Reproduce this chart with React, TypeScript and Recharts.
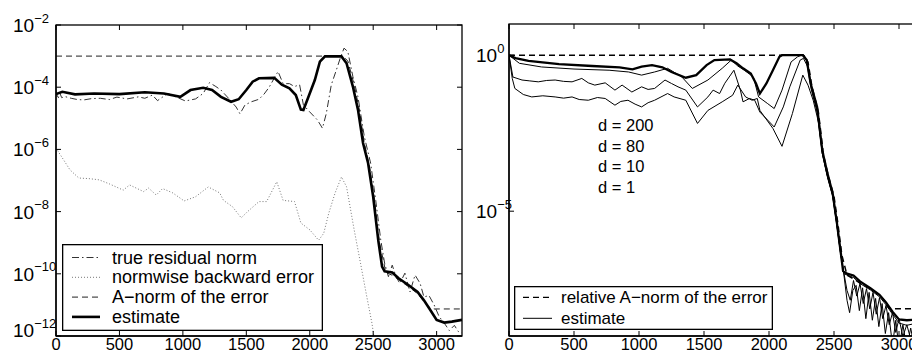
import React from 'react';
import { LineChart, Line, XAxis, YAxis, Legend, Customized } from 'recharts';

type Pt = [number, number];

const FONT = '"Liberation Sans", Arial, Helvetica, sans-serif';

// ---------- shared axis values ----------
const iterTicks = [0, 500, 1000, 1500, 2000, 2500, 3000];
const iterDomain: [number, number] = [0, 3200];
const leftTicks = [1e-12, 1e-10, 1e-8, 1e-6, 1e-4, 1e-2];
const leftDomain: [number, number] = [1e-12, 1e-2];
const rightTicks = [1e-5, 1];
const rightDomain: [number, number] = [1e-9, 10];

// ---------- left panel series ----------
const trueResidual: Pt[] = [
  [0, 8.1e-5], [15, 4.2e-5], [30, 6.5e-5], [45, 4.6e-5], [70, 5.0e-5], [120, 4.4e-5],
  [170, 4.0e-5], [220, 3.9e-5], [280, 4.3e-5], [350, 4.4e-5], [420, 4.0e-5], [480, 4.8e-5],
  [560, 4.2e-5], [650, 4.9e-5], [700, 4.4e-5], [760, 5.6e-5], [800, 3.7e-5], [880, 6.3e-5],
  [950, 4.8e-5], [1020, 3.6e-5], [1100, 4.2e-5], [1160, 6.3e-5], [1210, 1.4e-4], [1260, 1.05e-4],
  [1300, 8.1e-5], [1360, 4.4e-5], [1420, 2.3e-5], [1450, 1.4e-5], [1490, 2.7e-5], [1540, 3.4e-5],
  [1600, 4.1e-5], [1640, 6.0e-5], [1680, 1.0e-4], [1750, 3.2e-4], [1790, 1.3e-4], [1840, 1.3e-4],
  [1880, 1.05e-4], [1920, 1.2e-4], [1950, 2.7e-5], [2000, 1.6e-5], [2060, 8.9e-6], [2100, 4.8e-6],
  [2130, 1.4e-5], [2170, 1.2e-4], [2210, 3.6e-4], [2240, 8.5e-4], [2270, 1.8e-3], [2300, 1.4e-3],
  [2340, 2.2e-4], [2380, 4.9e-5], [2430, 2.6e-6], [2480, 3.6e-7], [2520, 2.3e-8], [2560, 1.2e-9],
  [2590, 2.2e-10], [2620, 8.1e-11], [2650, 1.9e-10], [2680, 8.1e-11], [2710, 4.9e-11], [2750, 1.05e-10],
  [2790, 2.6e-11], [2830, 9.1e-11], [2870, 4.9e-11], [2900, 1.8e-11], [2940, 2.0e-11], [2980, 1.0e-11],
  [3020, 4.2e-12], [3060, 2.6e-12], [3100, 1.5e-12], [3140, 2.2e-12], [3170, 1.4e-12], [3200, 1.25e-12],
];

const backwardError: Pt[] = [
  [0, 1.1e-6], [60, 4.6e-7], [110, 2.2e-7], [180, 1.2e-7], [260, 1.15e-7], [340, 1.05e-7],
  [420, 7.8e-8], [530, 4.9e-8], [580, 7.2e-8], [690, 4.4e-8], [730, 5.7e-8], [790, 3.4e-8],
  [840, 5.5e-8], [920, 4.0e-8], [1010, 2.2e-8], [1100, 3.0e-8], [1200, 6.2e-8], [1290, 4.0e-8],
  [1320, 2.3e-8], [1390, 1.45e-8], [1460, 6.3e-9], [1510, 1.0e-8], [1600, 2.1e-8], [1660, 2.1e-8],
  [1740, 9.1e-8], [1790, 2.3e-8], [1880, 2.1e-8], [1930, 4.3e-9], [2000, 2.6e-9], [2070, 1.2e-9],
  [2110, 2.0e-9], [2150, 8.9e-9], [2200, 4.0e-8], [2250, 1.3e-7], [2290, 6.3e-8], [2350, 2.6e-9],
  [2400, 2.2e-10], [2450, 1.8e-11], [2490, 2.6e-12], [2510, 7.4e-13],
];

const aNormError: Pt[] = [
  [0, 1e-3], [2260, 1e-3], [2300, 7e-4], [2350, 1.2e-4], [2390, 2e-5], [2430, 1.6e-6],
  [2470, 3e-7], [2510, 2.5e-8], [2550, 1e-9], [2600, 1.1e-10], [2650, 9e-11], [2700, 6.5e-11],
  [2780, 3.8e-11], [2850, 2.3e-11], [2900, 1.3e-11], [2940, 8.5e-12], [2980, 7.4e-12], [3200, 7.4e-12],
];

const estimate: Pt[] = [
  [0, 6.0e-5], [50, 7.1e-5], [150, 5.9e-5], [300, 6.3e-5], [500, 6.0e-5], [700, 6.9e-5],
  [850, 6.3e-5], [980, 4.9e-5], [1060, 8.1e-5], [1160, 9.6e-5], [1230, 8.1e-5], [1300, 4.9e-5],
  [1380, 3.4e-5], [1440, 4.1e-5], [1500, 8.1e-5], [1550, 1.5e-4], [1600, 1.94e-4], [1720, 2.0e-4],
  [1780, 1.2e-4], [1840, 9.2e-5], [1890, 5.6e-5], [1930, 1.9e-5], [1950, 1.85e-5], [1990, 4.9e-5],
  [2040, 1.7e-4], [2080, 6.6e-4], [2120, 9.8e-4], [2250, 9.8e-4], [2290, 5.9e-4], [2340, 1.05e-4],
  [2380, 1.9e-5], [2420, 1.6e-6], [2460, 3.6e-7], [2500, 3.0e-8], [2540, 1.2e-9], [2570, 1.7e-10],
  [2590, 1.2e-10], [2650, 1.1e-10], [2700, 7.2e-11], [2780, 4.3e-11], [2850, 2.6e-11], [2900, 1.4e-11],
  [2950, 6.9e-12], [3000, 3.3e-12], [3060, 2.7e-12], [3120, 2.9e-12], [3200, 3.3e-12],
];

// ---------- right panel series ----------
const relANormError: Pt[] = [
  [0, 1], [2265, 1], [2300, 0.6], [2330, 0.1], [2380, 0.015], [2420, 6e-4], [2460, 1.2e-4],
  [2500, 3e-5], [2530, 4e-6], [2560, 4e-7], [2600, 9e-8], [2700, 5e-8], [2800, 3e-8],
  [2880, 1.5e-8], [2920, 8e-9], [2950, 7.5e-9], [3200, 7.5e-9],
];

const estD200: Pt[] = [
  [0, 1.0], [50, 0.81], [150, 0.66], [385, 0.52], [640, 0.45], [850, 0.41], [950, 0.35],
  [1020, 0.43], [1100, 0.48], [1180, 0.41], [1250, 0.29], [1360, 0.19], [1440, 0.23], [1520, 0.48],
  [1580, 0.7], [1700, 0.73], [1750, 0.55], [1800, 0.38], [1860, 0.26], [1900, 0.124], [1930, 0.059],
  [1980, 0.124], [2030, 0.33], [2080, 0.89], [2100, 1.0], [2260, 1.0], [2290, 0.7], [2320, 0.126],
  [2370, 0.022], [2410, 8.9e-4], [2450, 1.6e-4], [2490, 3.7e-5], [2520, 5e-6], [2550, 5.5e-7],
  [2570, 1.2e-7], [2600, 1e-7], [2650, 8.7e-8], [2700, 5.6e-8], [2780, 3.4e-8], [2850, 2.1e-8],
  [2900, 1.2e-8], [2950, 6e-9], [3000, 3.4e-9], [3060, 3.2e-9], [3200, 3.6e-9],
];

const estD80: Pt[] = [
  [0, 1.0], [80, 0.55], [250, 0.42], [500, 0.36], [770, 0.33], [920, 0.29], [1020, 0.23],
  [1120, 0.29], [1220, 0.38], [1330, 0.2], [1410, 0.086], [1530, 0.16], [1640, 0.38], [1710, 0.7],
  [1760, 0.45], [1810, 0.33], [1880, 0.2], [1920, 0.046], [1990, 0.028], [2040, 0.0195],
  [2100, 0.076], [2170, 0.61], [2220, 0.89], [2250, 1.0], [2270, 1.0], [2295, 0.6], [2325, 0.1],
  [2370, 0.018], [2410, 8e-4], [2450, 1.4e-4], [2490, 3.3e-5], [2520, 4.5e-6], [2550, 5e-7],
  [2575, 1e-7], [2600, 9e-8], [2650, 7.5e-8], [2700, 4.8e-8], [2780, 3e-8], [2850, 1.8e-8],
  [2900, 1e-8], [2950, 5e-9], [3000, 2.6e-9], [3060, 2.2e-9], [3120, 2.5e-9], [3200, 3e-9],
];

const estD10: Pt[] = [
  [0, 1.0], [30, 0.2], [100, 0.16], [160, 0.15], [225, 0.14], [290, 0.155], [355, 0.16],
  [420, 0.145], [485, 0.14], [560, 0.18], [610, 0.13], [660, 0.11], [740, 0.13], [815, 0.076],
  [870, 0.11], [945, 0.066], [1020, 0.097], [1070, 0.08], [1120, 0.086], [1200, 0.16], [1250, 0.124],
  [1300, 0.097], [1360, 0.076], [1450, 0.022], [1530, 0.046], [1570, 0.076], [1620, 0.059],
  [1660, 0.126], [1730, 0.33], [1780, 0.076], [1800, 0.032], [1850, 0.041], [1890, 0.036],
  [1930, 0.015], [1990, 0.0083], [2040, 0.005], [2110, 0.022], [2160, 0.097], [2240, 0.7],
  [2265, 0.79], [2295, 0.45], [2325, 0.08], [2370, 0.015], [2410, 7e-4], [2450, 1.3e-4],
  [2490, 3.2e-5], [2520, 4.3e-6], [2550, 4.8e-7], [2575, 1.1e-7], [2600, 2.9e-8], [2625, 1.4e-8],
  [2650, 6e-8], [2675, 1.9e-8], [2700, 4.8e-8], [2725, 1.1e-8], [2750, 3.3e-8], [2775, 7.4e-9],
  [2800, 2.5e-8], [2825, 5e-9], [2850, 1.7e-8], [2875, 3.6e-9], [2900, 9.6e-9], [2925, 2.3e-9],
  [2950, 5.6e-9], [2975, 1.3e-9], [3000, 3.6e-9], [3030, 9.6e-10], [3060, 2.3e-9], [3090, 8e-10],
  [3120, 1.8e-9], [3160, 7e-10], [3200, 1.5e-9],
];

const estD1: Pt[] = [
  [0, 1.0], [25, 0.18], [45, 0.086], [110, 0.055], [175, 0.046], [260, 0.05], [355, 0.046],
  [420, 0.042], [485, 0.046], [540, 0.038], [610, 0.036], [680, 0.044], [740, 0.041], [815, 0.025],
  [860, 0.033], [915, 0.036], [970, 0.027], [1020, 0.022], [1070, 0.03], [1120, 0.036],
  [1220, 0.059], [1270, 0.046], [1360, 0.036], [1450, 0.0065], [1530, 0.017], [1640, 0.032],
  [1720, 0.052], [1760, 0.11], [1820, 0.046], [1870, 0.036], [1910, 0.041], [1930, 0.017],
  [2030, 0.0045], [2100, 0.0012], [2180, 0.0135], [2260, 0.23], [2300, 0.11], [2340, 0.036],
  [2385, 0.006], [2410, 7e-4], [2450, 1.2e-4], [2490, 3e-5], [2520, 4e-6], [2550, 4.5e-7],
  [2575, 1e-7], [2600, 1.4e-8], [2620, 5.6e-9], [2645, 2.9e-8], [2670, 4.2e-8], [2695, 6.5e-9],
  [2720, 3.5e-8], [2745, 3.6e-9], [2770, 2.5e-8], [2795, 3.2e-9], [2820, 1.6e-8], [2845, 2e-9],
  [2870, 1.1e-8], [2895, 1.2e-9], [2920, 5.6e-9], [2950, 5e-10], [2975, 3.2e-9], [3000, 4e-10],
  [3030, 2.3e-9], [3060, 4e-10], [3090, 1.8e-9], [3120, 4e-10], [3160, 1.5e-9], [3200, 5e-10],
];

const leftLegend = [
  { name: 'true residual norm', color: '#333', width: 1, dash: '7 3 1.5 3' },
  { name: 'normwise backward error', color: '#777', width: 1, dash: '1 2' },
  { name: 'A\u2212norm of the error', color: '#222', width: 1, dash: '6 4' },
  { name: 'estimate', color: '#000', width: 2.6, dash: undefined },
];

const rightLegend = [
  { name: 'relative A\u2212norm of the error', color: '#000', width: 1.3, dash: '6 4' },
  { name: 'estimate', color: '#000', width: 1, dash: undefined },
];

const dLabels = ['d = 200', 'd = 80', 'd = 10', 'd = 1'];

const toRows = (pts: Pt[]) => pts.map(([it, v]) => ({ it, v }));

// ---------- panel layout (plot box in chart pixels) ----------
type Box = { left: number; top: number; right: number; bottom: number };
const leftBox: Box = { left: 56, top: 25, right: 462, bottom: 336 };
const rightBox: Box = { left: 54, top: 24, right: 470, bottom: 336 };

// ---------- tick renderers ----------
const minus = (n: number) => (n < 0 ? `\u2212${-n}` : `${n}`);

// y ticks: label on the left, inward marks on both the left and right edges
const makeYTick = (labelX: number, minVal: number, box: Box) => (props: any) => {
  const { x, y, payload } = props;
  const exp = Math.round(Math.log10(payload.value));
  const base = payload.value === minVal ? y + 1 : y + 7;
  return (
    <g>
      <line x1={x} y1={y} x2={x + 5} y2={y} stroke="#000" strokeWidth={1} />
      <line x1={box.right - 5} y1={y} x2={box.right} y2={y} stroke="#000" strokeWidth={1} />
      <text x={labelX} y={base} fontFamily={FONT} fontSize={19} fill="#000">
        10
        <tspan dy={-9.5} fontSize={13}>{minus(exp)}</tspan>
      </text>
    </g>
  );
};

// x ticks: label below, inward marks on both the bottom and top edges
const makeXTick = (box: Box) => (props: any) => {
  const { x, y, payload } = props;
  return (
    <g>
      <line x1={x} y1={y} x2={x} y2={y - 5} stroke="#000" strokeWidth={1} />
      <line x1={x} y1={box.top} x2={x} y2={box.top + 5} stroke="#000" strokeWidth={1} />
      <text x={x} y={y + 14} textAnchor="middle" fontFamily={FONT} fontSize={16.5} fill="#000">
        {payload.value}
      </text>
    </g>
  );
};

const makeFrame = (box: Box) => () => (
  <rect x={box.left} y={box.top} width={box.right - box.left} height={box.bottom - box.top}
    fill="none" stroke="#000" strokeWidth={1.3} />
);

const axisLine = { stroke: '#000', strokeWidth: 1.3 };

type LegendEntry = { name: string; color: string; width: number; dash?: string };

const LegendBox = ({
  entries, width, height, firstBaseline, rowGap, textX, sample, fontSize,
}: {
  entries: LegendEntry[]; width: number; height: number; firstBaseline: number;
  rowGap: number; textX: number; sample: [number, number]; fontSize: number;
}) => (
  <svg width={width} height={height} style={{ display: 'block' }}>
    <rect x={0.65} y={0.65} width={width - 1.3} height={height - 1.3} fill="#fff" stroke="#000" strokeWidth={1.3} />
    {entries.map((e, i) => {
      const by = firstBaseline + i * rowGap;
      return (
        <g key={e.name}>
          <line x1={sample[0]} x2={sample[1]} y1={by - 6} y2={by - 6} stroke={e.color}
            strokeWidth={e.width} strokeDasharray={e.dash} />
          <text x={textX} y={by} fontFamily={FONT} fontSize={fontSize} fill="#000">{e.name}</text>
        </g>
      );
    })}
  </svg>
);

const DLabelGroup = () => (
  <g>
    {dLabels.map((t, i) => (
      <text key={t} x={143} y={131 + i * 20.5} fontFamily={FONT} fontSize={16.5} fill="#000">{t}</text>
    ))}
  </g>
);

const LeftFrame = makeFrame(leftBox);
const RightFrame = makeFrame(rightBox);

export default function App() {
  return (
    <div style={{ position: 'fixed', left: 0, top: 0, width: 912, height: 356, overflow: 'hidden', background: '#fff' }}>
      <div style={{ position: 'absolute', left: 0, top: 0 }}>
        <LineChart width={470} height={356} margin={{ top: 25, right: 8, bottom: 0, left: 0 }}>
          <XAxis xAxisId="b" dataKey="it" type="number" domain={iterDomain} ticks={iterTicks}
            interval={0} height={20} tickSize={0} tickMargin={0} tick={makeXTick(leftBox)}
            axisLine={axisLine} allowDataOverflow />
          <YAxis yAxisId="l" scale="log" domain={leftDomain} ticks={leftTicks} interval={0} width={56}
            tickSize={0} tickMargin={0} tick={makeYTick(13, leftDomain[0], leftBox)} axisLine={axisLine}
            allowDataOverflow />
          <Customized component={LeftFrame} />
          <Line xAxisId="b" yAxisId="l" data={toRows(backwardError)} dataKey="v" name="normwise backward error"
            stroke="#777" strokeWidth={1} strokeDasharray="1 2" dot={false} isAnimationActive={false} />
          <Line xAxisId="b" yAxisId="l" data={toRows(trueResidual)} dataKey="v" name="true residual norm"
            stroke="#333" strokeWidth={1} strokeDasharray="7 3 1.5 3" dot={false} isAnimationActive={false} />
          <Line xAxisId="b" yAxisId="l" data={toRows(aNormError)} dataKey="v" name="A-norm of the error"
            stroke="#222" strokeWidth={1} strokeDasharray="6 4" dot={false} isAnimationActive={false} />
          <Line xAxisId="b" yAxisId="l" data={toRows(estimate)} dataKey="v" name="estimate"
            stroke="#000" strokeWidth={2.6} dot={false} isAnimationActive={false} />
          <Legend verticalAlign="middle" align="center" layout="horizontal"
            wrapperStyle={{ left: 62, top: 244, width: 261, height: 87 }}
            content={() => (
              <LegendBox entries={leftLegend} width={261} height={87} firstBaseline={19.5} rowGap={19.8}
                textX={50} sample={[10, 38]} fontSize={18} />
            )} />
        </LineChart>
      </div>
      <div style={{ position: 'absolute', left: 455, top: 0 }}>
        <LineChart width={480} height={356} margin={{ top: 24, right: 10, bottom: 0, left: 0 }}>
          <XAxis xAxisId="b" dataKey="it" type="number" domain={iterDomain} ticks={iterTicks}
            interval={0} height={20} tickSize={0} tickMargin={0} tick={makeXTick(rightBox)}
            axisLine={axisLine} allowDataOverflow />
          <YAxis yAxisId="l" scale="log" domain={rightDomain} ticks={rightTicks} interval={0} width={54}
            tickSize={0} tickMargin={0} tick={makeYTick(21, rightDomain[0], rightBox)} axisLine={axisLine}
            allowDataOverflow />
          <Customized component={RightFrame} />
          <Line xAxisId="b" yAxisId="l" data={toRows(relANormError)} dataKey="v" name="relative A-norm of the error"
            stroke="#000" strokeWidth={1.5} strokeDasharray="6 4" dot={false} isAnimationActive={false} />
          <Line xAxisId="b" yAxisId="l" data={toRows(estD1)} dataKey="v" name="d = 1"
            stroke="#000" strokeWidth={1} dot={false} isAnimationActive={false} />
          <Line xAxisId="b" yAxisId="l" data={toRows(estD10)} dataKey="v" name="d = 10"
            stroke="#000" strokeWidth={1} dot={false} isAnimationActive={false} />
          <Line xAxisId="b" yAxisId="l" data={toRows(estD80)} dataKey="v" name="d = 80"
            stroke="#000" strokeWidth={1} dot={false} isAnimationActive={false} />
          <Line xAxisId="b" yAxisId="l" data={toRows(estD200)} dataKey="v" name="d = 200"
            stroke="#000" strokeWidth={2.3} dot={false} isAnimationActive={false} />
          <Customized component={DLabelGroup} />
          <Legend verticalAlign="middle" align="center" layout="horizontal"
            wrapperStyle={{ left: 59, top: 286, width: 259, height: 44 }}
            content={() => (
              <LegendBox entries={rightLegend} width={259} height={44} firstBaseline={17.3} rowGap={21}
                textX={47} sample={[9, 38]} fontSize={17} />
            )} />
        </LineChart>
      </div>
    </div>
  );
}
